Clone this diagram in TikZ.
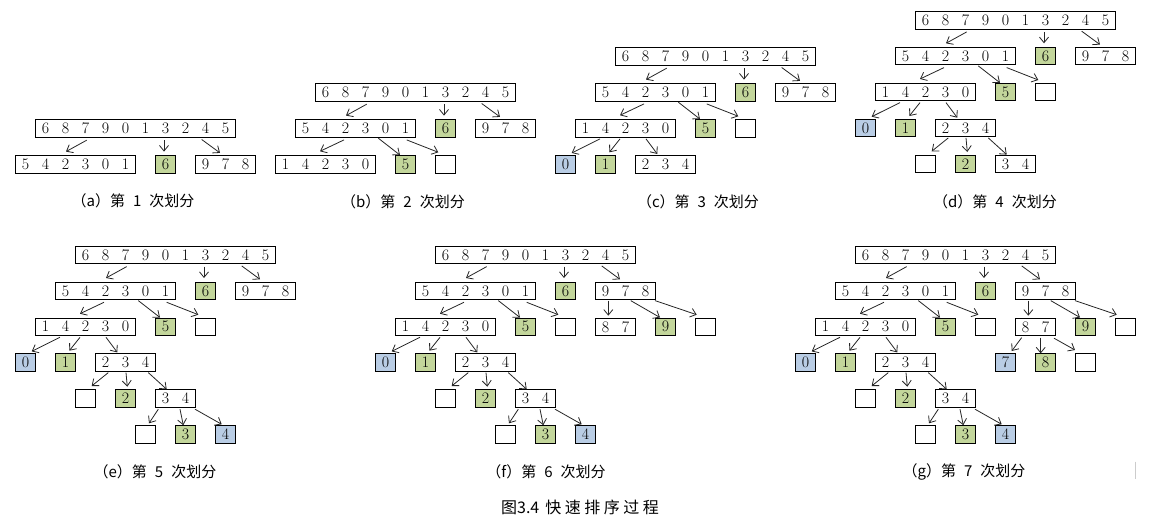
\documentclass[tikz,border=0pt]{standalone}
\usepackage{fontspec}
\newfontfamily\cjk{Noto Sans CJK SC}
\usetikzlibrary{arrows.meta}
\definecolor{gfill}{HTML}{C3D69B}
\definecolor{bfill}{HTML}{B9CDE5}
\makeatletter
\def\cells#1{\cells@i#1\relax}
\def\cells@i#1{\ifx#1\relax\else\makebox[20pt]{#1}\expandafter\cells@i\fi}
\makeatother
\tikzset{
  box/.style={draw, line width=0.9pt, inner sep=0pt, minimum height=17.6pt, anchor=north west, font=\fontsize{16}{16}\selectfont},
  gbox/.style={fill=gfill},
  bbox/.style={fill=bfill},
  ebox/.style={minimum width=20pt},
  arr/.style={draw=black!85, line width=0.8pt, -{Straight Barb[length=5.5pt,width=9pt]}},
  captext/.style={font=\cjk\fontsize{15}{15}\selectfont, inner sep=0pt}
}
\newcommand\capt[2]{（#1）第\hspace{8pt}#2\hspace{8pt}次划分}
\newcommand\drawpanel[4]{%
\begin{scope}[shift={(#2,#3)}]
\node[box] (#1root) at (0,0) {\cells{6879013245}};
\node[box] (#1A) at (-20,35.9) {\cells{542301}};
\node[box,gbox] (#1P6) at (120,35.9) {\cells{6}};
\node[box] (#1R) at (160,35.9) {\cells{978}};
\draw[arr] ([shift={(51.7,2.4)}]#1root.south west) -- ([shift={(51,-3.6)}]#1A.north west);
\draw[arr] ([shift={(129,2.4)}]#1root.south west) -- ([shift={(9,-3.6)}]#1P6.north west);
\draw[arr] ([shift={(166.7,1.7)}]#1root.south west) -- ([shift={(25,-2.3)}]#1R.north west);
\ifnum#4>1
\node[box] (#1B) at (-40,71.8) {\cells{14230}};
\node[box,gbox] (#1P5) at (80,71.8) {\cells{5}};
\node[box,ebox] (#1E1) at (120,71.8) {};
\draw[arr] ([shift={(49,2.2)}]#1A.south west) -- ([shift={(45,-3.8)}]#1B.north west);
\draw[arr] ([shift={(83.3,0.5)}]#1A.south west) -- ([shift={(5,0)}]#1P5.north west);
\draw[arr] ([shift={(111.7,2.2)}]#1A.south west) -- ([shift={(3.3,-2.8)}]#1E1.north west);
\fi
\ifnum#4>2
\node[box,bbox] (#1P0) at (-60,107.7) {\cells{0}};
\node[box,gbox] (#1P1) at (-20,107.7) {\cells{1}};
\node[box] (#1C) at (20,107.7) {\cells{234}};
\draw[arr] ([shift={(25,1.3)}]#1B.south west) -- ([shift={(16.7,-2)}]#1P0.north west);
\draw[arr] ([shift={(45,1.3)}]#1B.south west) -- ([shift={(14.3,-2.7)}]#1P1.north west);
\draw[arr] ([shift={(71,1.3)}]#1B.south west) -- ([shift={(22.3,-1)}]#1C.north west);
\fi
\ifnum#4>3
\node[box,ebox] (#1E2) at (0,143.6) {};
\node[box,gbox] (#1P2) at (40,143.6) {\cells{2}};
\node[box] (#1D) at (80,143.6) {\cells{34}};
\draw[arr] ([shift={(13.3,0.7)}]#1C.south west) -- ([shift={(16.7,-3.3)}]#1E2.north west);
\draw[arr] ([shift={(31,0.7)}]#1C.south west) -- ([shift={(12.3,-2.6)}]#1P2.north west);
\draw[arr] ([shift={(53.3,0.7)}]#1C.south west) -- ([shift={(11.7,0)}]#1D.north west);
\fi
\ifnum#4>4
\node[box,ebox] (#1E3) at (60,179.5) {};
\node[box,gbox] (#1P3) at (100,179.5) {\cells{3}};
\node[box,bbox] (#1P4) at (140,179.5) {\cells{4}};
\draw[arr] ([shift={(3.3,1.4)}]#1D.south west) -- ([shift={(14,-1.9)}]#1E3.north west);
\draw[arr] ([shift={(25,1.4)}]#1D.south west) -- ([shift={(8.3,0)}]#1P3.north west);
\draw[arr] ([shift={(40,1.4)}]#1D.south west) -- ([shift={(6.7,-0.9)}]#1P4.north west);
\fi
\ifnum#4>5
\node[box] (#1F) at (160,71.8) {\cells{87}};
\node[box,gbox] (#1P9) at (220,71.8) {\cells{9}};
\node[box,ebox] (#1E4) at (260,71.8) {};
\draw[arr] ([shift={(13.3,0.5)}]#1R.south west) -- ([shift={(13.3,-1.8)}]#1F.north west);
\draw[arr] ([shift={(35.7,0.5)}]#1R.south west) -- ([shift={(5,0)}]#1P9.north west);
\draw[arr] ([shift={(60,0.5)}]#1R.south west) -- ([shift={(1.7,-2.8)}]#1E4.north west);
\fi
\ifnum#4>6
\node[box,bbox] (#1P7) at (140,107.7) {\cells{7}};
\node[box,gbox] (#1P8) at (180,107.7) {\cells{8}};
\node[box,ebox] (#1E5) at (220,107.7) {};
\draw[arr] ([shift={(6.7,1.6)}]#1F.south west) -- ([shift={(16.7,-2.4)}]#1P7.north west);
\draw[arr] ([shift={(25.7,1.6)}]#1F.south west) -- ([shift={(5.7,0)}]#1P8.north west);
\draw[arr] ([shift={(39,2.2)}]#1F.south west) -- ([shift={(0,-3.4)}]#1E5.north west);
\fi
\end{scope}}
\begin{document}
\begin{tikzpicture}[x=1pt,y=-1pt]
\fill[white] (0,0) rectangle (1149,519);
\useasboundingbox (0,0) rectangle (1149,519);
\drawpanel{a}{35}{119.3}{1}
\drawpanel{b}{315}{83.3}{2}
\drawpanel{c}{615}{47.3}{3}
\drawpanel{d}{915}{11}{4}
\drawpanel{e}{75}{245.7}{5}
\drawpanel{f}{435}{245.7}{6}
\drawpanel{g}{855}{245.7}{7}
\node[captext] (capa) at (133,201) {\capt{a}{1}};
\node[captext] (capb) at (403,201.5) {\capt{b}{2}};
\node[captext] (capc) at (698,201.5) {\capt{c}{3}};
\node[captext] (capd) at (995,202) {\capt{d}{4}};
\node[captext] (cape) at (155,471.7) {\capt{e}{5}};
\node[captext] (capf) at (546,471.7) {\capt{f}{6}};
\node[captext] (capg) at (964,471.7) {\capt{g}{7}};
\node[captext, font=\cjk\fontsize{16}{16}\selectfont] (title) at (580,507.7) {图3.4\hspace{6pt}快\kern3.5pt 速\kern3.5pt 排\kern3.5pt 序\kern3.5pt 过\kern3.5pt 程};
\draw[gray!40, line width=0.8pt] (1135,461.7) -- (1135,479.3);
\end{tikzpicture}
\end{document}
